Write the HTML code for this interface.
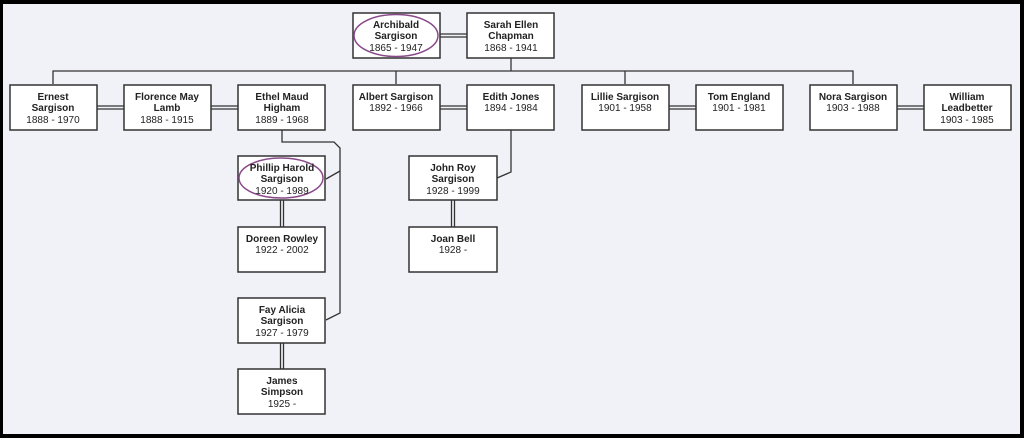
<!DOCTYPE html>
<html><head><meta charset="utf-8"><style>
html,body{margin:0;padding:0;background:#000;}
svg{display:block}
text{font-family:"Liberation Sans",Arial,sans-serif;font-size:10px;fill:#222;text-anchor:middle}
.b{font-weight:bold}
</style></head><body>
<svg width="1024" height="438" viewBox="0 0 1024 438" xmlns="http://www.w3.org/2000/svg">
<rect x="0" y="0" width="1024" height="438" fill="#000"/>
<rect x="3" y="4" width="1017" height="430" fill="#f1f2f7"/>
<g fill="none" stroke="#333" stroke-width="1.3">
<!-- bus -->
<polyline points="511,58 511,71"/>
<polyline points="53,84 53,71 853,71 853,84"/>
<line x1="396" y1="71" x2="396" y2="84"/>
<line x1="625" y1="71" x2="625" y2="84"/>
<!-- Ethel children -->
<polyline points="282,130 282,142 334,142 340,148 340,313 326,320"/>
<line x1="340" y1="171" x2="326" y2="179"/>
<!-- Edith child -->
<polyline points="511,130 511,172 497,178"/>
<!-- spouse doubles horizontal -->
<line x1="440" y1="34" x2="467" y2="34"/><line x1="440" y1="37" x2="467" y2="37"/>
<line x1="97" y1="106" x2="124" y2="106"/><line x1="97" y1="109" x2="124" y2="109"/>
<line x1="211" y1="106" x2="238" y2="106"/><line x1="211" y1="109" x2="238" y2="109"/>
<line x1="440" y1="106" x2="467" y2="106"/><line x1="440" y1="109" x2="467" y2="109"/>
<line x1="669" y1="106" x2="696" y2="106"/><line x1="669" y1="109" x2="696" y2="109"/>
<line x1="897" y1="106" x2="924" y2="106"/><line x1="897" y1="109" x2="924" y2="109"/>
<!-- vertical doubles -->
<line x1="280.5" y1="200" x2="280.5" y2="227"/><line x1="283.5" y1="200" x2="283.5" y2="227"/>
<line x1="280.5" y1="343" x2="280.5" y2="369"/><line x1="283.5" y1="343" x2="283.5" y2="369"/>
<line x1="451.5" y1="200" x2="451.5" y2="227"/><line x1="454.5" y1="200" x2="454.5" y2="227"/>
</g>
<g fill="#fff" stroke="#333" stroke-width="1.5">
<rect x="353" y="13" width="87" height="45"/>
<rect x="467" y="13" width="87" height="45"/>
<rect x="10" y="85" width="87" height="45"/>
<rect x="124" y="85" width="87" height="45"/>
<rect x="238" y="85" width="87" height="45"/>
<rect x="353" y="85" width="87" height="45"/>
<rect x="467" y="85" width="87" height="45"/>
<rect x="582" y="85" width="87" height="45"/>
<rect x="696" y="85" width="87" height="45"/>
<rect x="810" y="85" width="87" height="45"/>
<rect x="924" y="85" width="87" height="45"/>
<rect x="238" y="156" width="87" height="44"/>
<rect x="238" y="227" width="87" height="45"/>
<rect x="238" y="298" width="87" height="45"/>
<rect x="238" y="369" width="87" height="45"/>
<rect x="409" y="156" width="88" height="44"/>
<rect x="409" y="227" width="88" height="45"/>
</g>
<g fill="none" stroke="#8a4a8a" stroke-width="1.5">
<ellipse cx="396" cy="35.5" rx="42" ry="21"/>
<ellipse cx="281" cy="178" rx="42" ry="20"/>
</g>
<text class="b" x="396" y="28">Archibald</text><text class="b" x="396" y="39">Sargison</text><text x="396" y="51">1865 - 1947</text>
<text class="b" x="511" y="28">Sarah Ellen</text><text class="b" x="511" y="39">Chapman</text><text x="511" y="51">1868 - 1941</text>
<text class="b" x="53" y="100">Ernest</text><text class="b" x="53" y="111">Sargison</text><text x="53" y="123">1888 - 1970</text>
<text class="b" x="167" y="100">Florence May</text><text class="b" x="167" y="111">Lamb</text><text x="167" y="123">1888 - 1915</text>
<text class="b" x="282" y="100">Ethel Maud</text><text class="b" x="282" y="111">Higham</text><text x="282" y="123">1889 - 1968</text>
<text class="b" x="396" y="100">Albert Sargison</text><text x="396" y="111">1892 - 1966</text>
<text class="b" x="511" y="100">Edith Jones</text><text x="511" y="111">1894 - 1984</text>
<text class="b" x="625" y="100">Lillie Sargison</text><text x="625" y="111">1901 - 1958</text>
<text class="b" x="739" y="100">Tom England</text><text x="739" y="111">1901 - 1981</text>
<text class="b" x="853" y="100">Nora Sargison</text><text x="853" y="111">1903 - 1988</text>
<text class="b" x="967" y="100">William</text><text class="b" x="967" y="111">Leadbetter</text><text x="967" y="123">1903 - 1985</text>
<text class="b" x="282" y="171">Phillip Harold</text><text class="b" x="282" y="182">Sargison</text><text x="282" y="194">1920 - 1989</text>
<text class="b" x="282" y="242">Doreen Rowley</text><text x="282" y="253">1922 - 2002</text>
<text class="b" x="282" y="313">Fay Alicia</text><text class="b" x="282" y="324">Sargison</text><text x="282" y="336">1927 - 1979</text>
<text class="b" x="282" y="384">James</text><text class="b" x="282" y="395">Simpson</text><text x="282" y="407">1925 -</text>
<text class="b" x="453" y="171">John Roy</text><text class="b" x="453" y="182">Sargison</text><text x="453" y="194">1928 - 1999</text>
<text class="b" x="453" y="242">Joan Bell</text><text x="453" y="253">1928 -</text>
</svg>
</body></html>
